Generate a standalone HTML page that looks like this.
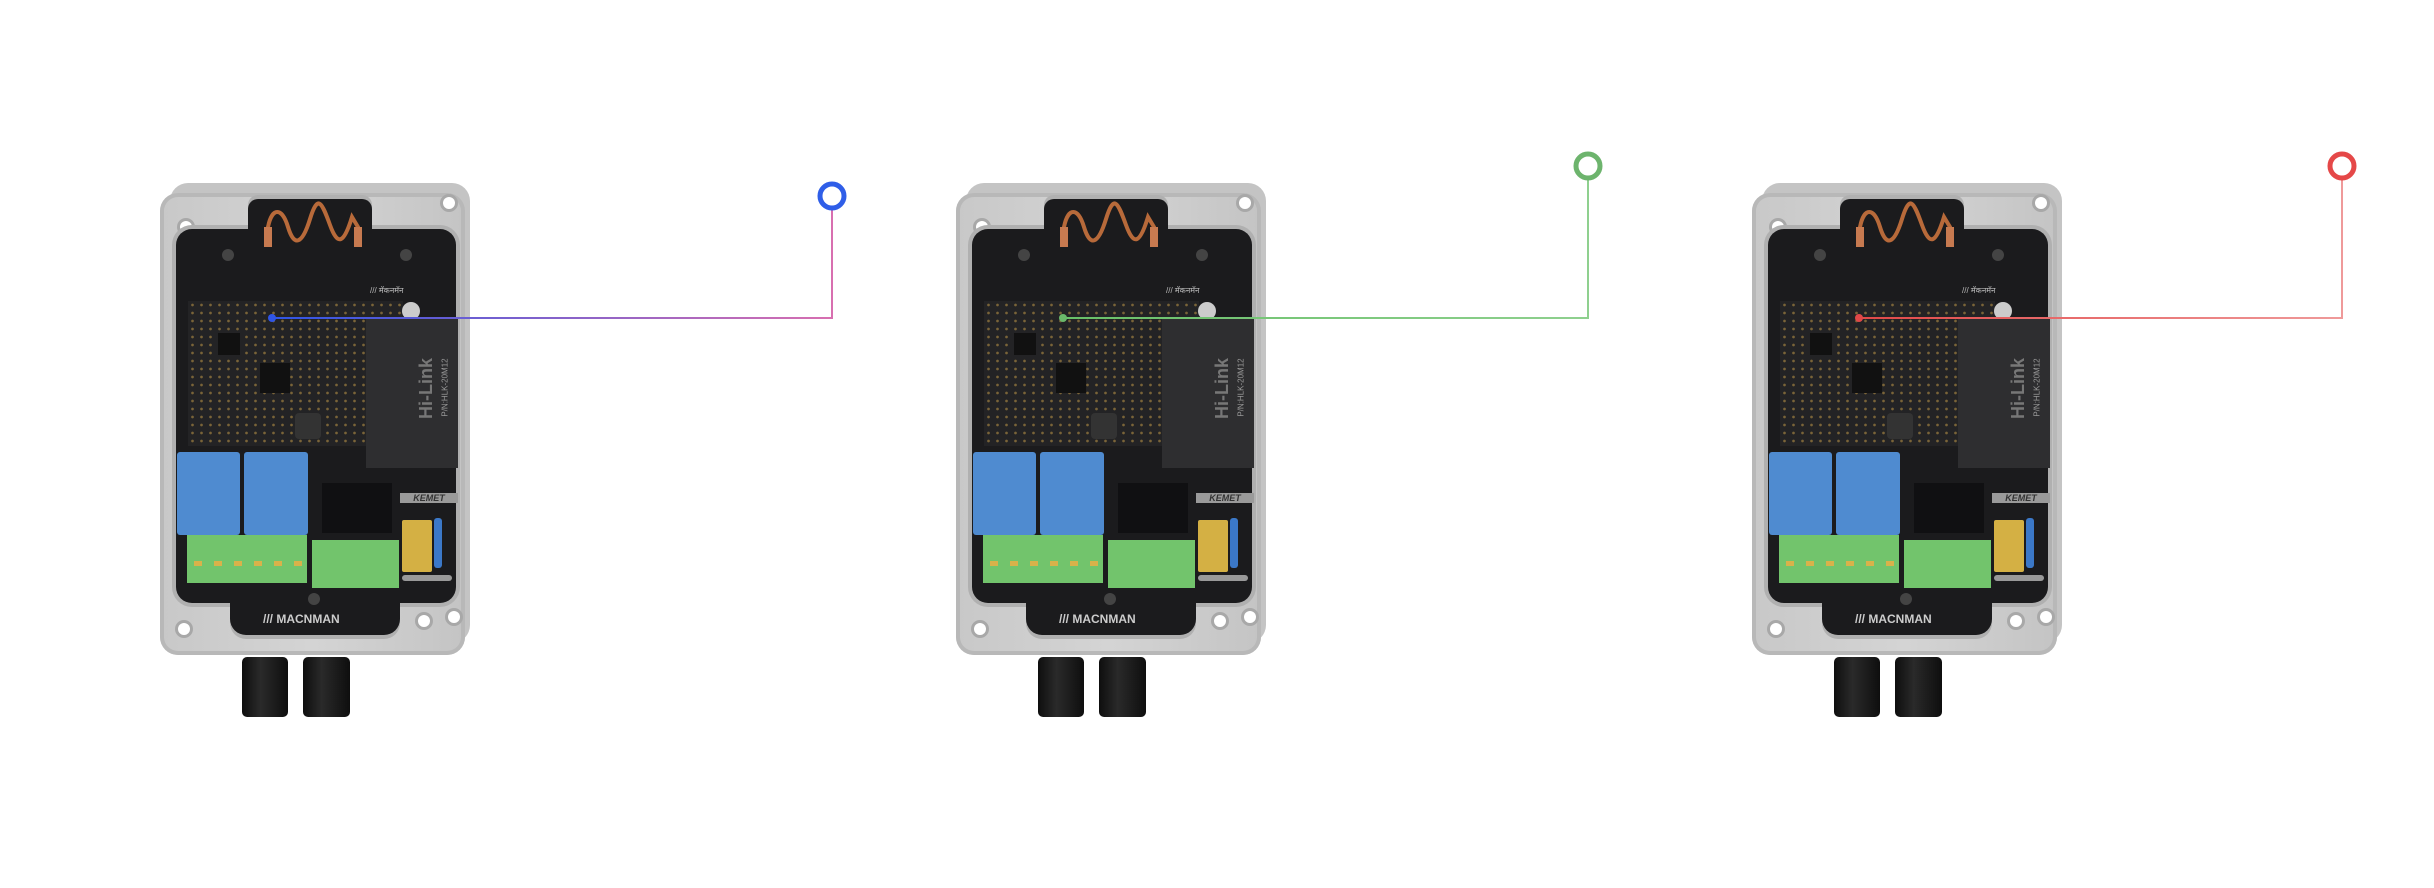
<!DOCTYPE html>
<html><head><meta charset="utf-8">
<style>
html,body{margin:0;padding:0;background:#fff;}
body{width:2434px;height:888px;position:relative;overflow:hidden;font-family:"Liberation Sans",sans-serif;}
.dev{position:absolute;top:183px;width:320px;height:540px;}
.dev div{position:absolute;}
.back{left:10px;top:0;width:300px;height:460px;background:#c4c4c4;border-radius:18px;}
.body{left:0;top:10px;width:305px;height:462px;background:linear-gradient(90deg,#c8c8c8,#d4d4d4 50%,#c4c4c4);border-radius:18px;box-shadow:inset 0 0 0 4px #b8b8b8;}
.inner{left:16px;top:46px;width:280px;height:374px;background:#1b1b1d;border-radius:16px;box-shadow:0 0 0 4px #b0b0b0;}
.tabt{left:88px;top:16px;width:124px;height:60px;background:#1b1b1d;border-radius:10px 10px 0 0;box-shadow:0 -4px 0 0 #b0b0b0;}
.tabb{left:70px;top:380px;width:170px;height:72px;background:#1b1b1d;border-radius:0 0 16px 16px;box-shadow:0 4px 0 0 #b0b0b0;}
.hole{width:12px;height:12px;border-radius:50%;background:#fff;box-shadow:0 0 0 3px #a8a8a8;}
.pcb{left:28px;top:118px;width:215px;height:145px;background:
radial-gradient(circle,#7a6438 1.1px,transparent 1.6px) 0 0/9px 8px,#232325;}
.chip{background:#111;}
.hilink{left:206px;top:135px;width:92px;height:150px;background:#2e2e30;color:#aaa;font-size:11px;}
.relay{background:#4f8bd0;border-radius:3px;}
.gterm{background:#72c46c;}
.gland{background:linear-gradient(90deg,#0e0e0e,#2a2a2a 40%,#0e0e0e);border-radius:5px;}
</style></head><body>

<svg width="2434" height="888" style="position:absolute;left:0;top:0;z-index:5">
<defs>
<linearGradient id="gb" x1="0" x2="1"><stop offset="0" stop-color="#2f55e6"/><stop offset="1" stop-color="#d86fb0"/></linearGradient>
<linearGradient id="gg" x1="0" x2="1"><stop offset="0" stop-color="#68c068"/><stop offset="1" stop-color="#8fd08f"/></linearGradient>
<linearGradient id="gr" x1="0" x2="1"><stop offset="0" stop-color="#e24848"/><stop offset="1" stop-color="#ef9a9a"/></linearGradient>
</defs>
<polyline points="272,318 832,318 832,209" fill="none" stroke="url(#gb)" stroke-width="2"/>
<circle cx="272" cy="318" r="4" fill="#2f55e6"/>
<circle cx="832" cy="196" r="12" fill="none" stroke="#2f5ee8" stroke-width="5"/>
<polyline points="1063,318 1588,318 1588,178" fill="none" stroke="url(#gg)" stroke-width="2"/>
<circle cx="1063" cy="318" r="4" fill="#6ab86a"/>
<circle cx="1588" cy="166" r="12" fill="none" stroke="#6db46d" stroke-width="5"/>
<polyline points="1859,318 2342,318 2342,178" fill="none" stroke="url(#gr)" stroke-width="2"/>
<circle cx="1859" cy="318" r="4" fill="#e04848"/>
<circle cx="2342" cy="166" r="12" fill="none" stroke="#e54848" stroke-width="5"/>
</svg>

<div class="dev" style="left:160px">
 <div class="back"></div><div class="body"></div>
 <div class="hole" style="left:20px;top:38px"></div><div class="hole" style="left:283px;top:14px"></div>
 <div class="hole" style="left:18px;top:440px"></div><div class="hole" style="left:258px;top:432px"></div><div class="hole" style="left:288px;top:428px"></div>
 <div class="inner"></div><div class="tabt"></div><div class="tabb"></div>
 <svg style="position:absolute;left:100px;top:16px" width="110" height="52"><path d="M8,45 L8,28 C12,8 22,8 28,28 S42,46 50,20 S62,4 70,26 S84,44 92,18 L98,28 L98,45" fill="none" stroke="#b86a3a" stroke-width="4"/><rect x="4" y="28" width="8" height="20" fill="#c77a50"/><rect x="94" y="28" width="8" height="20" fill="#c77a50"/></svg>
 <div class="pcb"></div>
 <div class="chip" style="left:100px;top:180px;width:30px;height:30px"></div>
 <div class="chip" style="left:58px;top:150px;width:22px;height:22px"></div>
 <div style="left:62px;top:66px;width:12px;height:12px;border-radius:50%;background:#444"></div>
 <div style="left:240px;top:66px;width:12px;height:12px;border-radius:50%;background:#444"></div>
 <div style="left:210px;top:102px;color:#bbb;font-size:8px">/// मॅकनमॅन</div>
 <div style="left:242px;top:119px;width:18px;height:18px;border-radius:50%;background:#ccc"></div>
 <div class="hilink"><div style="left:30px;top:60px;transform:rotate(-90deg);font-size:18px;font-weight:bold;color:#777">Hi-Link</div><div style="left:50px;top:65px;transform:rotate(-90deg);font-size:8px;color:#999;white-space:nowrap">P/N:HLK-20M12</div></div>
 <div style="left:135px;top:230px;width:26px;height:26px;background:#333;border-radius:4px"></div>
 <div class="relay" style="left:17px;top:269px;width:63px;height:83px"></div>
 <div class="relay" style="left:84px;top:269px;width:64px;height:83px"></div>
 <div class="gterm" style="left:27px;top:352px;width:120px;height:48px"></div>
 <div class="gterm" style="left:152px;top:357px;width:87px;height:48px"></div>
 <div style="left:28px;top:378px;width:118px;height:5px;background:repeating-linear-gradient(90deg,transparent 0 6px,#d9b24a 6px 14px,transparent 14px 20px)"></div>
 <div style="left:162px;top:300px;width:70px;height:50px;background:#101012"></div>
 <div style="left:240px;top:310px;width:58px;height:10px;background:#9a9a9a;color:#333;font-size:9px;font-weight:bold;font-style:italic;text-align:center;line-height:10px">KEMET</div>
 <div style="left:242px;top:337px;width:30px;height:52px;background:#d4b044;border-radius:2px"></div>
 <div style="left:274px;top:335px;width:8px;height:50px;background:#3b78c8;border-radius:3px"></div>
 <div style="left:242px;top:392px;width:50px;height:6px;background:#999;border-radius:3px"></div>
 <div style="left:148px;top:410px;width:12px;height:12px;border-radius:50%;background:#444"></div>
 <div style="left:103px;top:429px;color:#ccc;font-size:12px;font-weight:bold">/// MACNMAN</div>
 <div class="gland" style="left:82px;top:474px;width:46px;height:60px"></div>
 <div class="gland" style="left:143px;top:474px;width:47px;height:60px"></div>
</div>

<div class="dev" style="left:956px">
 <div class="back"></div><div class="body"></div>
 <div class="hole" style="left:20px;top:38px"></div><div class="hole" style="left:283px;top:14px"></div>
 <div class="hole" style="left:18px;top:440px"></div><div class="hole" style="left:258px;top:432px"></div><div class="hole" style="left:288px;top:428px"></div>
 <div class="inner"></div><div class="tabt"></div><div class="tabb"></div>
 <svg style="position:absolute;left:100px;top:16px" width="110" height="52"><path d="M8,45 L8,28 C12,8 22,8 28,28 S42,46 50,20 S62,4 70,26 S84,44 92,18 L98,28 L98,45" fill="none" stroke="#b86a3a" stroke-width="4"/><rect x="4" y="28" width="8" height="20" fill="#c77a50"/><rect x="94" y="28" width="8" height="20" fill="#c77a50"/></svg>
 <div class="pcb"></div>
 <div class="chip" style="left:100px;top:180px;width:30px;height:30px"></div>
 <div class="chip" style="left:58px;top:150px;width:22px;height:22px"></div>
 <div style="left:62px;top:66px;width:12px;height:12px;border-radius:50%;background:#444"></div>
 <div style="left:240px;top:66px;width:12px;height:12px;border-radius:50%;background:#444"></div>
 <div style="left:210px;top:102px;color:#bbb;font-size:8px">/// मॅकनमॅन</div>
 <div style="left:242px;top:119px;width:18px;height:18px;border-radius:50%;background:#ccc"></div>
 <div class="hilink"><div style="left:30px;top:60px;transform:rotate(-90deg);font-size:18px;font-weight:bold;color:#777">Hi-Link</div><div style="left:50px;top:65px;transform:rotate(-90deg);font-size:8px;color:#999;white-space:nowrap">P/N:HLK-20M12</div></div>
 <div style="left:135px;top:230px;width:26px;height:26px;background:#333;border-radius:4px"></div>
 <div class="relay" style="left:17px;top:269px;width:63px;height:83px"></div>
 <div class="relay" style="left:84px;top:269px;width:64px;height:83px"></div>
 <div class="gterm" style="left:27px;top:352px;width:120px;height:48px"></div>
 <div class="gterm" style="left:152px;top:357px;width:87px;height:48px"></div>
 <div style="left:28px;top:378px;width:118px;height:5px;background:repeating-linear-gradient(90deg,transparent 0 6px,#d9b24a 6px 14px,transparent 14px 20px)"></div>
 <div style="left:162px;top:300px;width:70px;height:50px;background:#101012"></div>
 <div style="left:240px;top:310px;width:58px;height:10px;background:#9a9a9a;color:#333;font-size:9px;font-weight:bold;font-style:italic;text-align:center;line-height:10px">KEMET</div>
 <div style="left:242px;top:337px;width:30px;height:52px;background:#d4b044;border-radius:2px"></div>
 <div style="left:274px;top:335px;width:8px;height:50px;background:#3b78c8;border-radius:3px"></div>
 <div style="left:242px;top:392px;width:50px;height:6px;background:#999;border-radius:3px"></div>
 <div style="left:148px;top:410px;width:12px;height:12px;border-radius:50%;background:#444"></div>
 <div style="left:103px;top:429px;color:#ccc;font-size:12px;font-weight:bold">/// MACNMAN</div>
 <div class="gland" style="left:82px;top:474px;width:46px;height:60px"></div>
 <div class="gland" style="left:143px;top:474px;width:47px;height:60px"></div>
</div>

<div class="dev" style="left:1752px">
 <div class="back"></div><div class="body"></div>
 <div class="hole" style="left:20px;top:38px"></div><div class="hole" style="left:283px;top:14px"></div>
 <div class="hole" style="left:18px;top:440px"></div><div class="hole" style="left:258px;top:432px"></div><div class="hole" style="left:288px;top:428px"></div>
 <div class="inner"></div><div class="tabt"></div><div class="tabb"></div>
 <svg style="position:absolute;left:100px;top:16px" width="110" height="52"><path d="M8,45 L8,28 C12,8 22,8 28,28 S42,46 50,20 S62,4 70,26 S84,44 92,18 L98,28 L98,45" fill="none" stroke="#b86a3a" stroke-width="4"/><rect x="4" y="28" width="8" height="20" fill="#c77a50"/><rect x="94" y="28" width="8" height="20" fill="#c77a50"/></svg>
 <div class="pcb"></div>
 <div class="chip" style="left:100px;top:180px;width:30px;height:30px"></div>
 <div class="chip" style="left:58px;top:150px;width:22px;height:22px"></div>
 <div style="left:62px;top:66px;width:12px;height:12px;border-radius:50%;background:#444"></div>
 <div style="left:240px;top:66px;width:12px;height:12px;border-radius:50%;background:#444"></div>
 <div style="left:210px;top:102px;color:#bbb;font-size:8px">/// मॅकनमॅन</div>
 <div style="left:242px;top:119px;width:18px;height:18px;border-radius:50%;background:#ccc"></div>
 <div class="hilink"><div style="left:30px;top:60px;transform:rotate(-90deg);font-size:18px;font-weight:bold;color:#777">Hi-Link</div><div style="left:50px;top:65px;transform:rotate(-90deg);font-size:8px;color:#999;white-space:nowrap">P/N:HLK-20M12</div></div>
 <div style="left:135px;top:230px;width:26px;height:26px;background:#333;border-radius:4px"></div>
 <div class="relay" style="left:17px;top:269px;width:63px;height:83px"></div>
 <div class="relay" style="left:84px;top:269px;width:64px;height:83px"></div>
 <div class="gterm" style="left:27px;top:352px;width:120px;height:48px"></div>
 <div class="gterm" style="left:152px;top:357px;width:87px;height:48px"></div>
 <div style="left:28px;top:378px;width:118px;height:5px;background:repeating-linear-gradient(90deg,transparent 0 6px,#d9b24a 6px 14px,transparent 14px 20px)"></div>
 <div style="left:162px;top:300px;width:70px;height:50px;background:#101012"></div>
 <div style="left:240px;top:310px;width:58px;height:10px;background:#9a9a9a;color:#333;font-size:9px;font-weight:bold;font-style:italic;text-align:center;line-height:10px">KEMET</div>
 <div style="left:242px;top:337px;width:30px;height:52px;background:#d4b044;border-radius:2px"></div>
 <div style="left:274px;top:335px;width:8px;height:50px;background:#3b78c8;border-radius:3px"></div>
 <div style="left:242px;top:392px;width:50px;height:6px;background:#999;border-radius:3px"></div>
 <div style="left:148px;top:410px;width:12px;height:12px;border-radius:50%;background:#444"></div>
 <div style="left:103px;top:429px;color:#ccc;font-size:12px;font-weight:bold">/// MACNMAN</div>
 <div class="gland" style="left:82px;top:474px;width:46px;height:60px"></div>
 <div class="gland" style="left:143px;top:474px;width:47px;height:60px"></div>
</div>

</body></html>
